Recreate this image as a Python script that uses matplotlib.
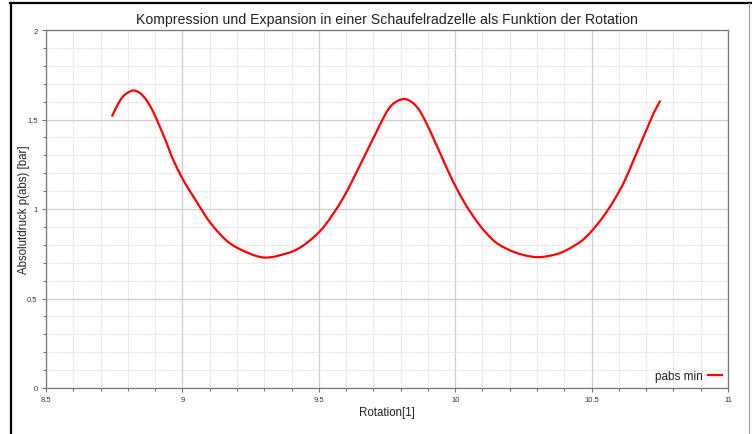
import numpy as np
import matplotlib
matplotlib.use("Agg")
import matplotlib.pyplot as plt
from matplotlib.lines import Line2D
from matplotlib.ticker import MultipleLocator, FuncFormatter

plt.rcParams['font.family'] = ['Liberation Sans', 'DejaVu Sans']

# values
rotation = [8.743, 8.761, 8.785, 8.816, 8.840, 8.865, 8.889, 8.913, 8.938, 8.962,
            9.0, 9.054, 9.102, 9.163, 9.224, 9.298, 9.371, 9.432, 9.5, 9.552,
            9.601, 9.650, 9.700, 9.737, 9.767, 9.804, 9.834, 9.865, 9.895, 9.926,
            9.963, 10.0, 10.037, 10.073, 10.110, 10.152, 10.201, 10.25, 10.299, 10.341,
            10.388, 10.437, 10.473, 10.510, 10.546, 10.582, 10.619, 10.655, 10.692, 10.722,
            10.750]
pabs_min = [1.522, 1.578, 1.633, 1.661, 1.652, 1.615, 1.555, 1.475, 1.385, 1.290,
            1.170, 1.036, 0.924, 0.822, 0.766, 0.729, 0.747, 0.785, 0.869, 0.971,
            1.093, 1.242, 1.395, 1.510, 1.580, 1.613, 1.604, 1.560, 1.478, 1.375,
            1.248, 1.130, 1.028, 0.944, 0.872, 0.810, 0.769, 0.743, 0.731, 0.737,
            0.756, 0.795, 0.834, 0.894, 0.964, 1.048, 1.150, 1.277, 1.410, 1.518,
            1.600]

# Catmull-Rom through the read points so the line is drawn smooth
x = np.array(rotation)
y = np.array(pabs_min)
n = len(x)
xs, ys = [], []
for i in range(n - 1):
    i0, i3 = max(i - 1, 0), min(i + 2, n - 1)
    for t in np.linspace(0, 1, 10, endpoint=False):
        a = -0.5 * t ** 3 + t ** 2 - 0.5 * t
        b = 1.5 * t ** 3 - 2.5 * t ** 2 + 1
        c = -1.5 * t ** 3 + 2 * t ** 2 + 0.5 * t
        d = 0.5 * t ** 3 - 0.5 * t ** 2
        xs.append(a * x[i0] + b * x[i] + c * x[i + 1] + d * x[i3])
        ys.append(a * y[i0] + b * y[i] + c * y[i + 1] + d * y[i3])
xs.append(x[-1])
ys.append(y[-1])

fig = plt.figure(figsize=(7.52, 4.35), dpi=100)
ax = fig.add_axes([46 / 752, 1 - 389 / 435, (728 - 46) / 752, (389 - 31) / 435])

ax.plot(xs, ys, color="#ff0000", lw=1.6, label="pabs min")

ax.set_xlim(8.5, 11)
ax.set_ylim(0, 2)
ax.xaxis.set_major_locator(MultipleLocator(0.5))
ax.xaxis.set_minor_locator(MultipleLocator(0.1))
ax.yaxis.set_major_locator(MultipleLocator(0.5))
ax.yaxis.set_minor_locator(MultipleLocator(0.1))
ax.xaxis.set_major_formatter(FuncFormatter(lambda v, pos: "%g" % v))
ax.yaxis.set_major_formatter(FuncFormatter(lambda v, pos: "%g" % v))

ax.grid(which="major", color="#cfcfcf", lw=0.9, ls="-")
ax.grid(which="minor", color="#dedede", lw=0.7, ls=(0, (1.5, 1)))
ax.set_axisbelow(True)

ax.tick_params(which="both", direction="out", length=3, width=0.6, color="#555555",
               labelsize=5.5, labelcolor="#333333", pad=3)
ax.tick_params(which="minor", length=2)
for s in ax.spines.values():
    s.set_color("#777777")
    s.set_linewidth(0.9)

ax.set_title("Kompression und Expansion in einer Schaufelradzelle als Funktion der Rotation",
             fontsize=10.2, color="#222222", pad=5)
ax.set_xlabel("Rotation[1]", fontsize=8.3, color="#222222", labelpad=2)
ax.set_ylabel("Absolutdruck p(abs) [bar]", fontsize=8.3, color="#222222")
ax.yaxis.set_label_coords(-16 / 682, 0.5)

ax.legend(loc="lower right", frameon=False, fontsize=8.5, markerfirst=False,
          handlelength=1.2, borderaxespad=0.1, handletextpad=0.4,
          labelcolor="#222222")

# outer frame of the screenshot
fig.add_artist(Line2D([10.5 / 752, 10.5 / 752], [0, 1 - 4 / 435], color="black", lw=1.6))
fig.add_artist(Line2D([10 / 752, 1.0], [1 - 4 / 435, 1 - 4 / 435], color="black", lw=1.6))
fig.add_artist(Line2D([749 / 752, 749 / 752], [0, 1 - 4 / 435], color="#9a9a9a", lw=0.8))

fig.savefig("out.png", dpi=100)
